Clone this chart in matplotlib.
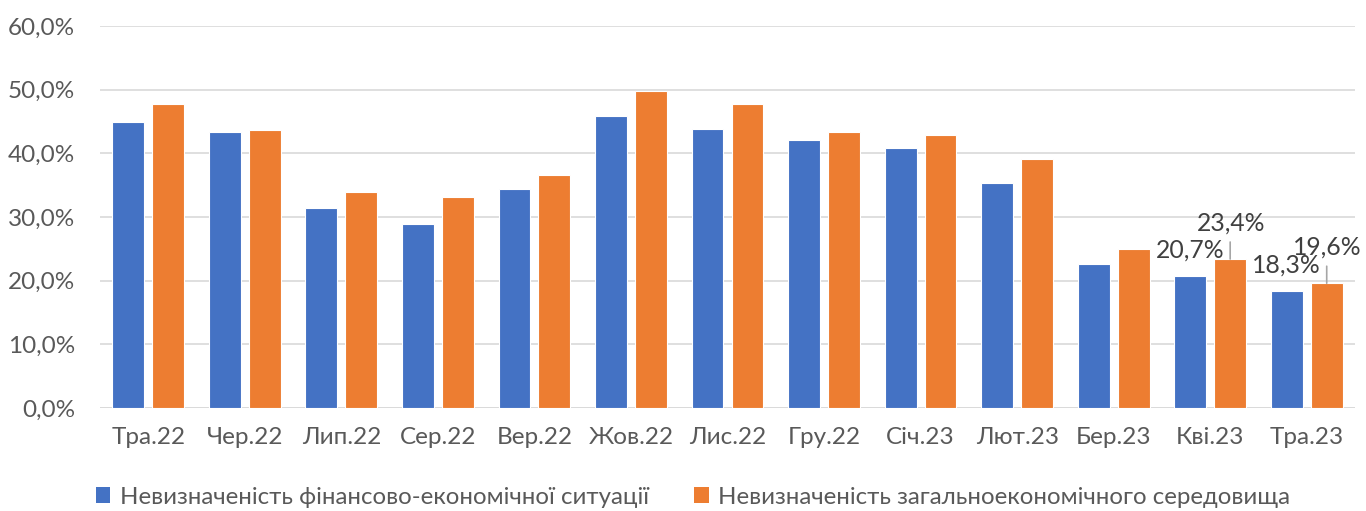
import matplotlib
matplotlib.use("Agg")
import matplotlib.pyplot as plt
from matplotlib.patches import Patch
import numpy as np

categories = ["Тра.22", "Чер.22", "Лип.22", "Сер.22", "Вер.22", "Жов.22", "Лис.22",
              "Гру.22", "Січ.23", "Лют.23", "Бер.23", "Кві.23", "Тра.23"]
financial = [45.0, 43.3, 31.4, 28.9, 34.4, 45.9, 43.8, 42.1, 40.8, 35.4, 22.6, 20.7, 18.3]
general = [47.7, 43.6, 33.9, 33.2, 36.6, 49.8, 47.7, 43.3, 42.9, 39.1, 25.0, 23.4, 19.6]
series_names = ["Невизначеність фінансово-економічної ситуації",
                "Невизначеність загальноекономічного середовища"]
labeled_idx = [11, 12]

BLUE = "#4472C4"
ORANGE = "#ED7D31"
TXT = "#595959"
GRID = "#D9D9D9"

plt.rcParams['font.family'] = ['Lato', 'DejaVu Sans']

fig = plt.figure(figsize=(13.66, 5.11), dpi=100)
ax = fig.add_axes([100/1366, 1-408/511, 1255/1366, 382/511])

x = np.arange(len(categories))
w = 0.33
off = 0.207
ax.bar(x - off, financial, width=w, color=BLUE, edgecolor="white", linewidth=0.8, zorder=3)
ax.bar(x + off, general, width=w, color=ORANGE, edgecolor="white", linewidth=0.8, zorder=3)

ax.set_xlim(-0.5, len(categories) - 0.5)
ax.set_ylim(0, 60)
ax.set_yticks(np.arange(0, 61, 10))
ax.set_yticklabels([f"{v:.1f}%".replace(".", ",") for v in np.arange(0, 61, 10)])
ax.set_xticks(x)
ax.set_xticklabels(categories)
ax.tick_params(axis='both', length=0, colors=TXT, labelsize=17.5)
ax.tick_params(axis='y', pad=18)
ax.tick_params(axis='x', pad=14)

ax.grid(axis='y', color=GRID, linewidth=1.2, zorder=0)
for s in ax.spines.values():
    s.set_visible(False)
ax.axhline(0, color=GRID, linewidth=1.2, zorder=1)

def fmt(v):
    return f"{v:.1f}%".replace(".", ",")

for i in labeled_idx:
    ax.annotate(fmt(financial[i]), xy=(x[i] - off, financial[i]), xytext=(0, 26),
                textcoords='offset pixels', ha='center', va='center',
                fontsize=17.8, color="#404040", zorder=5)
    ax.annotate("", xy=(x[i] + off, general[i]), xytext=(0, 17),
                textcoords='offset pixels',
                arrowprops=dict(arrowstyle='-', color="#A6A6A6", lw=1.2,
                                shrinkA=0, shrinkB=0), zorder=4)
    ax.annotate(fmt(general[i]), xy=(x[i] + off, general[i]), xytext=(1, 36),
                textcoords='offset pixels', ha='center', va='center',
                fontsize=17.8, color="#404040", zorder=5)

handles = [Patch(facecolor=BLUE, edgecolor='none'), Patch(facecolor=ORANGE, edgecolor='none')]
fig.legend(handles, series_names, loc='center', bbox_to_anchor=(693/1366, 1-497/511),
           ncol=2, frameon=False, fontsize=17.3, labelcolor=TXT,
           handlelength=0.6, handleheight=0.6, handletextpad=0.4, columnspacing=1.9)

fig.savefig("out.png", dpi=100)
